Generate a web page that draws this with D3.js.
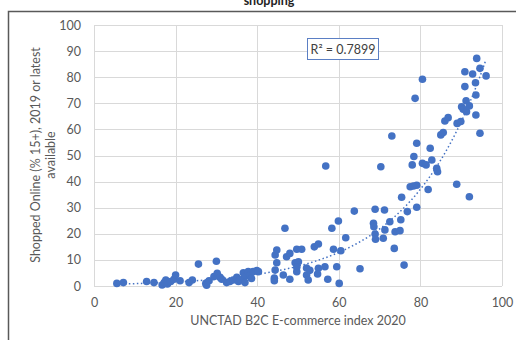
<!DOCTYPE html>
<html><head><meta charset="utf-8">
<script src="https://cdn.jsdelivr.net/npm/d3@7"></script>
<style>body{margin:0;background:#fff;} svg{display:block;font-family:Lato,"Open Sans",sans-serif;}</style>
</head><body>
<svg id="c" width="516" height="340"></svg>
<script>
const title = "shopping";
const xLabel = "UNCTAD B2C E-commerce index 2020";
const yLabelLines = ["Shopped Online (% 15+), 2019 or latest", "available"];
const rSquaredLabel = "R\u00B2 = 0.7899";
const xTicks = [0, 20, 40, 60, 80, 100];
const yTicks = [0, 10, 20, 30, 40, 50, 60, 70, 80, 90, 100];
const ecomIndex = [5.6,7.2,12.9,14.7,16.7,17.2,17.6,18.0,18.8,19.6,20.0,21.1,23.3,24.1,25.6,27.4,27.6,28.2,29.4,30.0,30.2,30.9,31.3,32.5,33.3,34.1,35.0,35.4,35.8,36.6,37.0,37.0,37.8,38.2,38.6,39.0,39.9,40.3,44.2,44.2,44.4,44.4,44.8,44.8,46.4,46.8,47.2,48.0,48.0,49.3,49.7,50.1,49.7,49.7,50.9,52.1,52.5,52.1,52.9,54.0,55.0,55.0,54.8,56.8,56.6,57.3,58.3,58.7,59.5,59.9,60.1,60.5,61.7,63.8,65.2,68.5,68.6,68.9,68.9,69.0,70.3,70.9,71.2,71.3,72.5,73.0,73.6,73.8,75.0,75.2,75.4,76.0,76.8,77.5,78.3,79.1,78.0,78.4,78.7,79.1,79.1,80.5,80.5,81.4,81.9,82.4,82.8,84.0,84.2,85.0,85.6,86.0,86.8,88.9,89.0,89.9,90.1,90.5,90.9,90.9,91.2,91.3,92.0,92.0,92.8,93.5,93.6,93.6,93.8,94.6,94.6,96.1];
const shoppedOnline = [1.0,1.3,1.7,1.3,0.4,1.3,2.3,0.8,1.7,2.6,4.2,2.0,1.3,2.3,8.4,1.0,0.3,2.0,3.6,9.5,4.9,3.3,2.6,1.3,1.7,2.3,3.3,1.7,2.4,5.1,3.6,1.3,5.5,4.2,2.9,5.5,5.9,5.5,2.0,3.0,6.1,11.9,13.8,8.9,4.2,22.1,11.2,12.5,2.6,8.9,14.1,9.3,5.5,7.2,14.1,4.2,2.3,6.9,6.0,15.0,16.1,6.8,4.6,46.0,7.4,2.6,22.1,14.1,7.4,24.9,1.0,13.5,18.5,28.7,6.6,24.0,22.7,29.4,19.9,17.9,45.7,18.3,29.1,21.5,24.6,57.5,14.4,20.8,21.2,25.4,34.0,8.0,28.5,38.0,38.3,38.6,46.4,49.6,71.9,54.7,30.2,79.2,47.0,46.4,37.0,52.8,48.3,45.1,43.8,57.9,58.8,63.2,64.5,39.0,62.3,63.0,68.7,67.7,82.1,76.4,71.0,66.8,69.0,34.2,81.2,77.9,73.2,65.5,87.2,58.5,83.4,80.5];

const data = ecomIndex.map((x, i) => ({x, y: shoppedOnline[i]}));
const svg = d3.select("#c");
const x = d3.scaleLinear().domain([0, 100]).range([94, 502]);
const y = d3.scaleLinear().domain([0, 100]).range([286, 25]);

// chart border
svg.append("rect").attr("x", 8.5).attr("y", 11.5).attr("width", 540).attr("height", 360)
  .attr("fill", "none").attr("stroke", "#595959").attr("stroke-width", 1.5);

// title (cut off at top)
svg.append("text").attr("x", 269).attr("y", 5).attr("text-anchor", "middle")
  .attr("font-size", 12.5).attr("font-weight", "bold").attr("fill", "#222").text(title);

// gridlines
svg.append("g").selectAll("line").data(yTicks).join("line")
  .attr("x1", x(0)).attr("x2", x(100)).attr("y1", d => Math.round(y(d)) + 0.5).attr("y2", d => Math.round(y(d)) + 0.5)
  .attr("stroke", "#d9d9d9").attr("stroke-width", 1);
svg.append("g").selectAll("line").data(xTicks).join("line")
  .attr("y1", y(0)).attr("y2", y(100)).attr("x1", d => Math.round(x(d)) + 0.5).attr("x2", d => Math.round(x(d)) + 0.5)
  .attr("stroke", "#d9d9d9").attr("stroke-width", 1);

// axes
const xAxis = svg.append("g").attr("transform", `translate(0,${y(0)})`)
  .call(d3.axisBottom(x).tickValues(xTicks).tickSize(0).tickPadding(12));
const yAxis = svg.append("g").attr("transform", `translate(${x(0)},0)`)
  .call(d3.axisLeft(y).tickValues(yTicks).tickSize(0).tickPadding(13));
[xAxis, yAxis].forEach(g => {
  g.select(".domain").remove();
  g.selectAll("text").attr("font-size", 12.5).attr("fill", "#595959").attr("font-family", "Lato, 'Open Sans', sans-serif");
});

// axis titles
svg.append("text").attr("x", 298).attr("y", 325).attr("text-anchor", "middle")
  .attr("font-size", 12.5).attr("fill", "#595959").text(xLabel);
const yl = svg.append("text").attr("transform", "translate(40,155) rotate(-90)")
  .attr("text-anchor", "middle").attr("font-size", 12.5).attr("fill", "#595959");
yLabelLines.forEach((t, i) => yl.append("tspan").attr("x", 0).attr("dy", i === 0 ? 0 : 15).text(t));

// exponential trendline (least squares on ln y, like Excel)
const n = data.length;
const lx = data.map(d => d.x), ly = data.map(d => Math.log(d.y));
const mx = d3.mean(lx), my = d3.mean(ly);
const b = d3.sum(lx.map((v, i) => (v - mx) * (ly[i] - my))) / d3.sum(lx.map(v => (v - mx) ** 2));
const a = Math.exp(my - b * mx);
const [x0, x1] = d3.extent(ecomIndex);
const trend = d3.range(x0, x1 + 0.01, 0.5).map(v => [v, a * Math.exp(b * v)]);
svg.append("path").datum(trend)
  .attr("d", d3.line().x(d => x(d[0])).y(d => y(d[1])))
  .attr("fill", "none").attr("stroke", "#4472C4").attr("stroke-width", 1.5).attr("stroke-dasharray", "1.5,2.5");

// points
svg.append("g").selectAll("circle").data(data).join("circle")
  .attr("cx", d => x(d.x)).attr("cy", d => y(d.y)).attr("r", 3.8).attr("fill", "#4472C4");

// R² box
const bx = svg.append("g").attr("transform", "translate(307,38)");
bx.append("rect").attr("x", 0.5).attr("y", 0.5).attr("width", 71).attr("height", 21)
  .attr("fill", "#fff").attr("stroke", "#5b7fc4").attr("stroke-width", 1);
bx.append("text").attr("x", 36).attr("y", 15.5).attr("text-anchor", "middle")
  .attr("font-size", 12.5).attr("fill", "#404040").text(rSquaredLabel);
</script>
</body></html>
